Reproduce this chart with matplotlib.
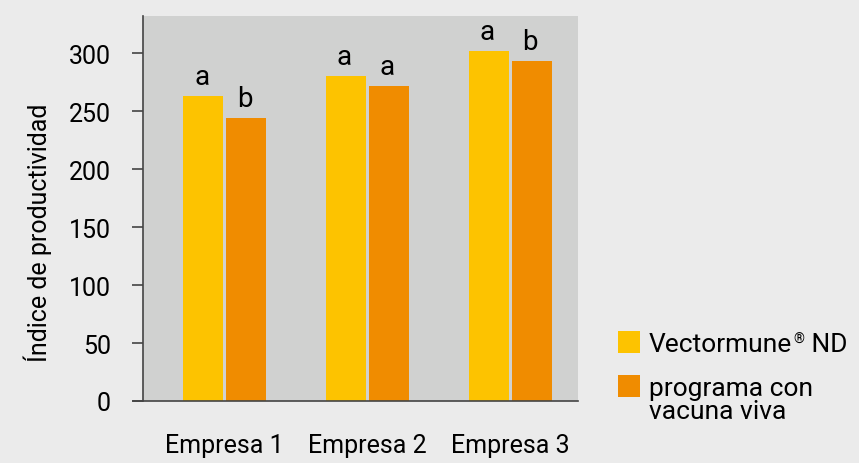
import matplotlib.pyplot as plt
from matplotlib.patches import Rectangle
import numpy as np

plt.rcParams['font.family'] = ['Roboto', 'DejaVu Sans']

empresas = ['Empresa 1', 'Empresa 2', 'Empresa 3']
vectormune = [263, 280, 302]
viva = [244, 272, 293]
letras_vectormune = ['a', 'a', 'a']
letras_viva = ['b', 'a', 'b']

fondo = '#ebebeb'
amarillo = '#fdc300'
naranja = '#f08c00'
fs = 18
W, H = 859, 464

fig = plt.figure(figsize=(W / 100, H / 100), dpi=100, facecolor=fondo)
ax = fig.add_axes([143 / W, 62 / H, 435 / W, 385 / H])
ax.set_facecolor('#d0d1d0')

x = np.arange(len(empresas))
w = 0.28
b1 = ax.bar(x - w / 2 - 0.01, vectormune, w, color=amarillo)
b2 = ax.bar(x + w / 2 + 0.01, viva, w, color=naranja)

# letras de significancia sobre cada barra
for rect, letra in zip(list(b1) + list(b2), letras_vectormune + letras_viva):
    ax.annotate(letra, (rect.get_x() + rect.get_width() / 2, rect.get_height()),
                xytext=(-1, 8.5), textcoords='offset points',
                ha='center', va='baseline', fontsize=20)

ax.set_xlim(-0.57, 2.475)
ax.set_ylim(0, 332)
ax.set_yticks(range(0, 301, 50))
ax.set_xticks(x)
ax.set_xticklabels(empresas)
ax.tick_params(axis='x', length=0, pad=23, labelsize=fs)
ax.tick_params(axis='y', length=8, width=1.2, color='#444444', labelsize=fs, pad=15)

fig.text(38 / W, 1 - 233 / H, 'Índice de productividad', rotation=90,
         ha='center', va='center', fontsize=fs)

for s in ['top', 'right']:
    ax.spines[s].set_visible(False)
ax.spines['left'].set_color('#444444')
ax.spines['left'].set_linewidth(1.2)
ax.spines['bottom'].set_color('#444444')
ax.spines['bottom'].set_linewidth(1.2)
ax.spines['bottom'].set_bounds(-0.64, 2.475)

# leyenda dibujada a mano: cuadro de color + texto
fig.add_artist(Rectangle((618 / W, 1 - 354 / H), 22 / W, 22 / H,
                         transform=fig.transFigure, color=amarillo, lw=0))
fig.add_artist(Rectangle((618 / W, 1 - 398 / H), 22 / W, 22 / H,
                         transform=fig.transFigure, color=naranja, lw=0))

lfs = 19
t1 = fig.text(649 / W, 1 - 352 / H, 'Vectormune', fontsize=lfs, va='baseline')
marca = fig.add_artist(plt.Annotation('®', xy=(1, 1), xycoords=t1, xytext=(1, 0),
                                      textcoords='offset points', fontsize=10,
                                      ha='left', va='top', annotation_clip=False))
fig.add_artist(plt.Annotation(' ND', xy=(1, 0), xycoords=(marca, t1), fontsize=lfs,
                              ha='left', va='bottom', annotation_clip=False))
fig.text(649 / W, 1 - 419 / H, 'programa con\nvacuna viva', fontsize=lfs,
         va='baseline', linespacing=0.93)

fig.savefig('out.png', dpi=100, facecolor=fondo)
